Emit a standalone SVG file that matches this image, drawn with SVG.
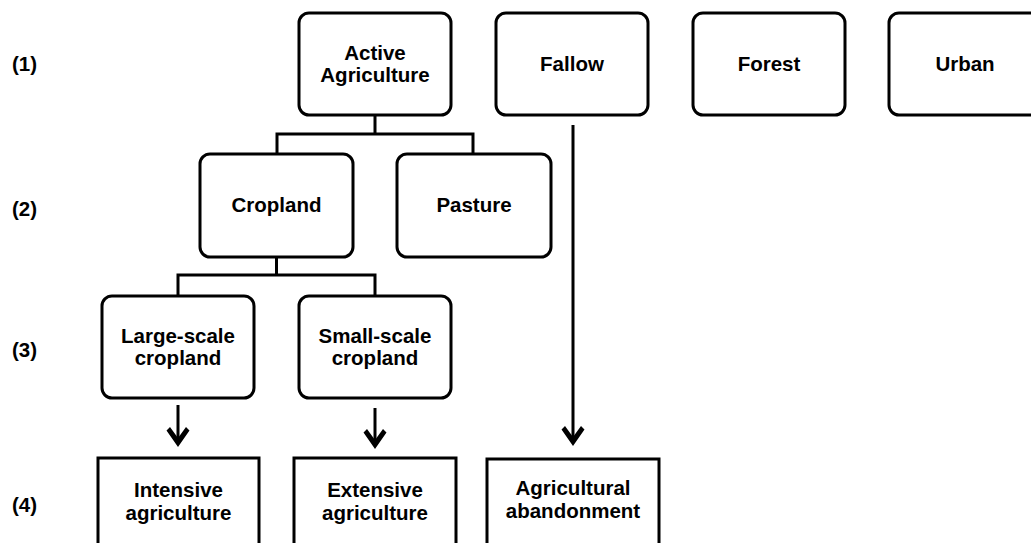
<svg xmlns="http://www.w3.org/2000/svg" width="1031" height="543" viewBox="0 0 1031 543">
<style>
.box{fill:#fff;stroke:#000;stroke-width:3}
.t{font-family:"Liberation Sans",Arial,sans-serif;font-weight:bold;font-size:20.5px;text-anchor:middle;fill:#000}
.lbl{font-family:"Liberation Sans",Arial,sans-serif;font-weight:bold;font-size:20.5px;fill:#000}
.c{fill:none;stroke:#000;stroke-width:3}
.ah{fill:#000;stroke:none}
</style>
<defs>
<polygon id="head" class="ah" points="0,0 -11.5,-16.5 -8,-20 0,-9 8,-20 11.5,-16.5"/>
</defs>
<rect width="1031" height="543" fill="#fff"/>
<g id="levels">
<text class="lbl" x="12" y="71">(1)</text>
<text class="lbl" x="12" y="216">(2)</text>
<text class="lbl" x="12" y="357">(3)</text>
<text class="lbl" x="12" y="512">(4)</text>
</g>
<g id="connectors">
<path class="c" d="M375,115 V134 M277,134 H473 M277,132.5 V154 M473,132.5 V154"/>
<path class="c" d="M276.5,257 V275 M178,275 H375 M178,273.5 V296 M375,273.5 V296"/>
<line class="c" x1="178" y1="405" x2="178" y2="440"/>
<use href="#head" x="178" y="447"/>
<line class="c" x1="375" y1="408" x2="375" y2="442"/>
<use href="#head" x="375" y="449"/>
<line class="c" x1="573" y1="125" x2="573" y2="439"/>
<use href="#head" x="573" y="446"/>
</g>
<g id="active-agriculture">
<rect class="box" x="299" y="13" width="152" height="102" rx="10"/>
<text class="t" x="375" y="60">Active</text>
<text class="t" x="375" y="82">Agriculture</text>
</g>
<g id="fallow">
<rect class="box" x="496" y="13" width="152" height="102" rx="10"/>
<text class="t" x="572" y="71">Fallow</text>
</g>
<g id="forest">
<rect class="box" x="693" y="13" width="152" height="102" rx="10"/>
<text class="t" x="769" y="71">Forest</text>
</g>
<g id="urban">
<rect class="box" x="889" y="13" width="152" height="102" rx="10"/>
<text class="t" x="965" y="71">Urban</text>
</g>
<g id="cropland">
<rect class="box" x="200" y="154" width="153" height="103" rx="10"/>
<text class="t" x="276.5" y="212">Cropland</text>
</g>
<g id="pasture">
<rect class="box" x="397" y="154" width="154" height="103" rx="10"/>
<text class="t" x="474" y="212">Pasture</text>
</g>
<g id="large-scale-cropland">
<rect class="box" x="102" y="296" width="152" height="102" rx="10"/>
<text class="t" x="178" y="343">Large-scale</text>
<text class="t" x="178" y="365">cropland</text>
</g>
<g id="small-scale-cropland">
<rect class="box" x="299" y="296" width="152" height="102" rx="10"/>
<text class="t" x="375" y="343">Small-scale</text>
<text class="t" x="375" y="365">cropland</text>
</g>
<g id="intensive-agriculture">
<rect class="box" x="98" y="458" width="161" height="87"/>
<text class="t" x="178.5" y="497">Intensive</text>
<text class="t" x="178.5" y="520">agriculture</text>
</g>
<g id="extensive-agriculture">
<rect class="box" x="294" y="458" width="162" height="87"/>
<text class="t" x="375" y="497">Extensive</text>
<text class="t" x="375" y="520">agriculture</text>
</g>
<g id="agricultural-abandonment">
<rect class="box" x="487" y="459" width="172" height="86"/>
<text class="t" x="573" y="495">Agricultural</text>
<text class="t" x="573" y="518">abandonment</text>
</g>
</svg>
